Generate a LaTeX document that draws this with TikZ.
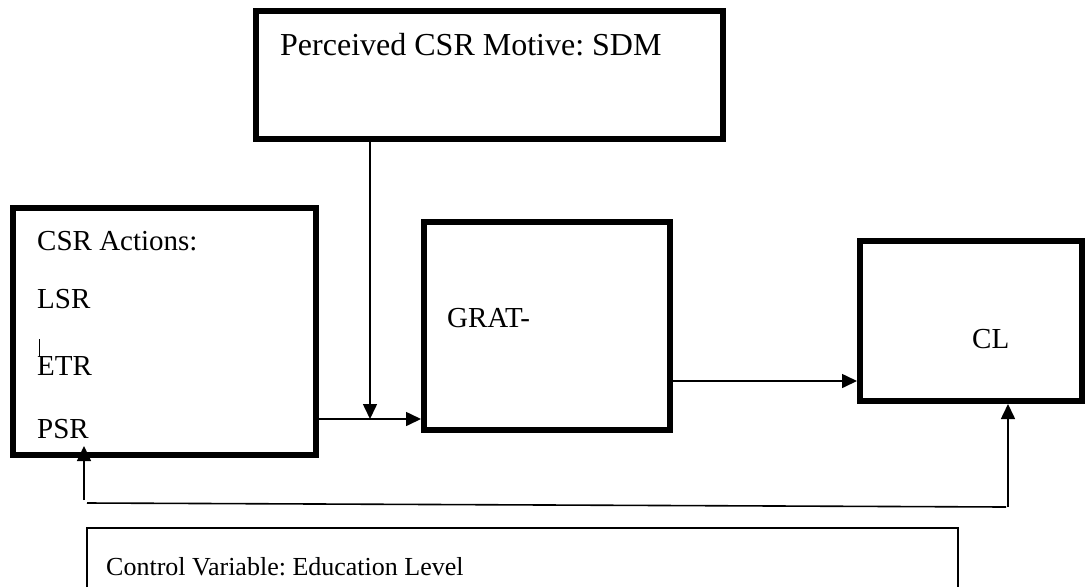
\documentclass[tikz,border=0pt]{standalone}
\usepackage{fontspec}
\setmainfont{Liberation Serif}
\usetikzlibrary{arrows.meta}
\frenchspacing
\tikzset{
  box/.style={draw, line width=6pt, minimum width=#1, inner sep=0pt},
  lbl/.style={inner sep=0pt, anchor=base west, font=\fontsize{29}{34}\selectfont},
  conn/.style={line width=1.6pt},
  arr/.style={conn, -{Triangle[length=15pt,width=14pt]}},
}
\begin{document}
\begin{tikzpicture}[x=1pt, y=-1pt]
\useasboundingbox (0,0) rectangle (1087,587);

% main boxes
\node[box=467pt, minimum height=128pt] (sdm)  at (489.5,75)  {};
\node[box=303pt, minimum height=247pt] (csr)  at (164.5,331.5) {};
\node[box=246pt, minimum height=208pt] (grat) at (547,326)   {};
\node[box=222pt, minimum height=160pt] (cl)   at (971,321)   {};

% labels
\node[lbl, font=\fontsize{32}{38}\selectfont] (tsdm) at (280,55) {Perceived CSR Motive: SDM};
\node[lbl] (tcsr) at (37,250) {CSR Actions:};
\node[lbl] (tlsr) at (37,308) {LSR};
\node[lbl] (tetr) at (37,375) {ETR};
\node[lbl] (tpsr) at (37,438) {PSR};
\node[lbl] (tgrat) at (447,327) {GRAT-};
\node[lbl] (tcl) at (972,348) {CL};
\node[lbl, font=\fontsize{26}{31}\selectfont] (tctrl) at (106,575) {Control Variable: Education Level};

% stray text cursor before ETR
\draw[line width=1pt] (39,339) -- (39,356);

% control variable box, open at the bottom edge of the page
\coordinate (cbl) at (87,587);
\coordinate (ctl) at (87,528);
\coordinate (ctr) at (958,528);
\coordinate (cbr) at (958,587);
\draw[line width=1.8pt] (cbl) -- (ctl) -- (ctr) -- (cbr);

% moderation and main paths
\coordinate (j) at (370,419);
\draw[arr] (csr.east |- j) -- (grat.west |- j);
\draw[arr] (sdm.south -| j) -- (j);
\coordinate (g) at (673,381);
\draw[arr] (grat.east |- g) -- (cl.west |- g);

% control variable feedback lines
\coordinate (fl) at (84,500);
\coordinate (fltip) at (84,446);
\coordinate (hl) at (87,503);
\coordinate (hr) at (1006,507);
\coordinate (fr) at (1008,507);
\draw[arr] (fl) -- (fltip);
\draw[conn] (hl) -- (hr);
\draw[arr] (fr) -- (cl.south -| fr);
\end{tikzpicture}
\end{document}
